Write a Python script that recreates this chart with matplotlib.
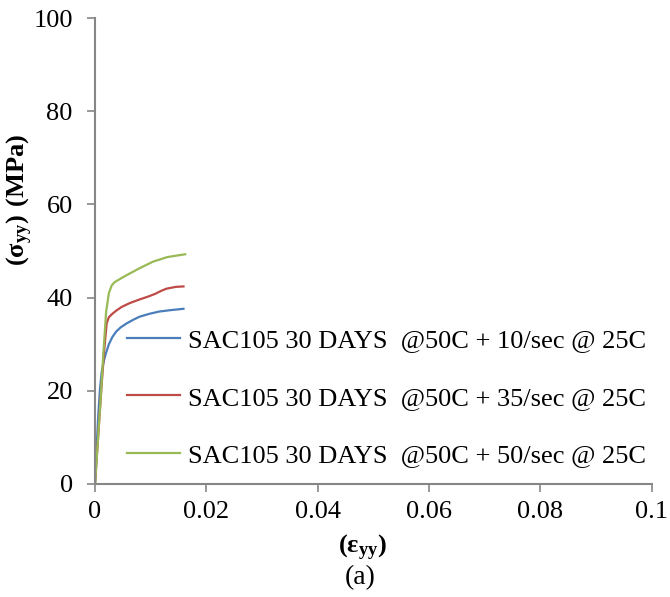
import matplotlib
matplotlib.use('Agg')
import matplotlib.pyplot as plt

plt.rcParams['font.family'] = ['Liberation Serif', 'DejaVu Serif']
plt.rcParams['mathtext.fontset'] = 'custom'
plt.rcParams['mathtext.rm'] = 'Liberation Serif'
plt.rcParams['mathtext.bf'] = 'Liberation Serif:bold'

# 读图估计的数据
strain_10 = [0, 0.0003, 0.0006, 0.0009, 0.0012, 0.0016, 0.002, 0.0025, 0.0031, 0.0038, 0.0046,
             0.0056, 0.0068, 0.008, 0.0097, 0.0115, 0.0135, 0.0159]
stress_10 = [0, 8, 15, 20.5, 24, 26.5, 28.2, 30, 31.5, 32.7, 33.6,
             34.4, 35.2, 35.9, 36.5, 37.0, 37.3, 37.6]

strain_35 = [0, 0.0005, 0.001, 0.0016, 0.0021, 0.0025, 0.003, 0.0038, 0.0048, 0.0062, 0.008, 0.0095,
             0.0108, 0.0118, 0.0128, 0.0145, 0.0159]
stress_35 = [0, 9, 18, 28, 34.5, 35.8, 36.4, 37.2, 38.0, 38.8, 39.6, 40.2,
             40.8, 41.4, 41.9, 42.3, 42.4]

strain_50 = [0, 0.0005, 0.001, 0.0015, 0.002, 0.0025, 0.003, 0.0035, 0.0045, 0.0055, 0.008, 0.0104,
             0.013, 0.0162]
stress_50 = [0, 9, 18, 28, 37, 41, 42.6, 43.3, 44.0, 44.7, 46.3, 47.7,
             48.7, 49.3]

labels = ['SAC105 30 DAYS  @50C + 10/sec @ 25C',
          'SAC105 30 DAYS  @50C + 35/sec @ 25C',
          'SAC105 30 DAYS  @50C + 50/sec @ 25C']
colors = ['#4A7EBB', '#BE4B48', '#98B954']

fig = plt.figure(figsize=(6.7, 5.97), dpi=100)
ax = fig.add_axes([0.1418, 0.1893, 0.8306, 0.7805])

ax.plot(strain_10, stress_10, color=colors[0], lw=1.6, label=labels[0])
ax.plot(strain_35, stress_35, color=colors[1], lw=1.6, label=labels[1])
ax.plot(strain_50, stress_50, color=colors[2], lw=1.6, label=labels[2])

ax.set_xlim(0, 0.1)
ax.set_ylim(0, 100)
ax.set_xticks([0, 0.02, 0.04, 0.06, 0.08, 0.1])
ax.set_xticklabels(['0', '0.02', '0.04', '0.06', '0.08', '0.1'])
ax.set_yticks([0, 20, 40, 60, 80, 100])

for s in ['top', 'right']:
    ax.spines[s].set_visible(False)
for s in ['left', 'bottom']:
    ax.spines[s].set_color('#868686')
    ax.spines[s].set_linewidth(1.5)
ax.tick_params(colors='#868686', labelcolor='black', labelsize=19, length=6, width=1.2, direction='out')
ax.tick_params(axis='y', pad=10)
ax.tick_params(axis='x', pad=6)

ax.legend(loc='center left', bbox_to_anchor=(0.0575, 0.185), frameon=False, fontsize=19,
          handlelength=2.0, handletextpad=0.3, labelspacing=1.3, borderpad=0, borderaxespad=0)

fig.text(20 / 670, 1 - 200 / 597, r'$\mathbf{(σ_{yy})\ (MPa)}$', rotation=90, fontsize=19,
         ha='center', va='center')
fig.text(362 / 670, 1 - 548 / 597, r'$\mathbf{(ε_{yy})}$', fontsize=19, ha='center', va='center')
fig.text(360 / 670, 1 - 578 / 597, '(a)', fontsize=20, ha='center', va='center')

plt.savefig('out.png', dpi=100)
